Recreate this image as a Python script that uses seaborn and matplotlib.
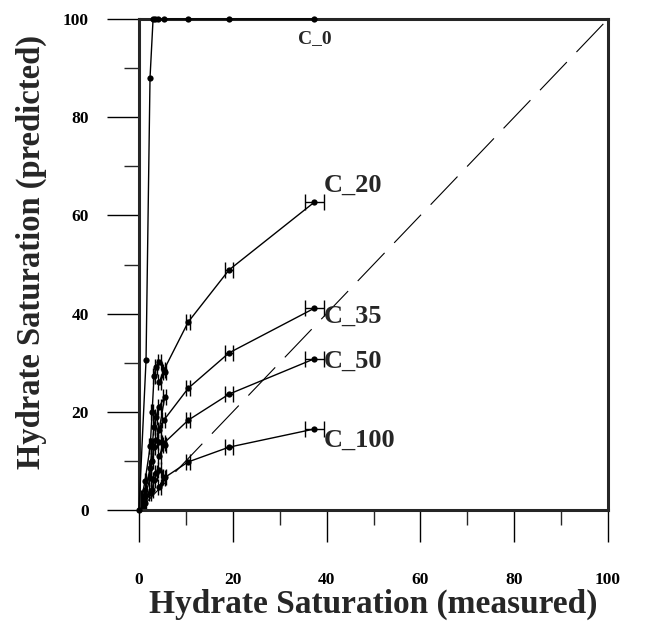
import numpy as np
import pandas as pd
import matplotlib
matplotlib.use("Agg")
import matplotlib.pyplot as plt
import seaborn as sns

# ---- data ----
x_meas = [0.0, 0.6, 1.3, 2.4, 2.8, 3.2, 3.6, 4.3, 5.5, 4.3, 5.3, 10.5, 19.2, 37.4]
c20 = [0.0, 2.5, 6.0, 13.0, 20.0, 27.2, 29.2, 30.2, 28.2, 26.0, 28.5, 38.3, 48.9, 62.7]
c35 = [0.0, 1.6, 4.0, 8.5, 13.0, 17.0, 19.0, 21.0, 23.1, 16.3, 18.3, 24.8, 32.0, 41.1]
c50 = [0.0, 1.2, 3.0, 6.5, 10.0, 12.9, 14.3, 13.9, 13.2, 10.9, 13.6, 18.3, 23.6, 30.8]
c100 = [0.0, 0.6, 1.4, 3.4, 4.1, 6.1, 7.5, 8.1, 6.8, 4.7, 6.5, 9.8, 12.8, 16.5]
x_err = [0.0, 0.1, 0.1, 0.2, 0.2, 0.2, 0.2, 0.3, 0.3, 0.3, 0.3, 0.4, 0.9, 2.1]

x_c0 = [0.0, 1.5, 2.35, 3.0, 3.5, 4.1, 5.3, 10.5, 19.2, 37.4]
c0 = [0.0, 30.5, 88.0, 100.0, 100.0, 100.0, 100.0, 100.0, 100.0, 100.0]

series_names = ["C_20", "C_35", "C_50", "C_100"]
series_vals = [c20, c35, c50, c100]
label_y = [64.8, 38.1, 28.9, 12.8]

y_tick_vals = [0, 20, 40, 60, 80, 100]
x_tick_vals = [0, 20, 40, 60, 80, 100]

# ---- style ----
sns.set_style("ticks")
plt.rcParams['font.family'] = ['Liberation Serif', 'DejaVu Serif']
plt.rcParams['font.weight'] = 'bold'
plt.rcParams['lines.scale_dashes'] = False

fig = plt.figure(figsize=(6.46, 6.21), dpi=100)
ax = fig.add_axes([139/646, 1-510/621, (608-139)/646, (510-19)/621])

# diagonal dashed reference
ref = pd.DataFrame({"x": [0, 100], "y": [0, 100]})
sns.lineplot(data=ref, x="x", y="y", ax=ax, color="black", lw=0.8,
             dashes=False, linestyle=(0, (28, 10)))

# C_0
d0 = pd.DataFrame({"x": x_c0, "y": c0})
sns.lineplot(data=d0, x="x", y="y", ax=ax, sort=False, color="black", lw=1.0,
             marker="o", markersize=4.5, markeredgewidth=0, estimator=None,
             clip_on=False, zorder=6)

for name, vals in zip(series_names, series_vals):
    d = pd.DataFrame({"x": x_meas, "y": vals})
    sns.lineplot(data=d, x="x", y="y", ax=ax, sort=False, color="black", lw=1.0,
                 marker="o", markersize=4.5, markeredgewidth=0, estimator=None)
    ax.errorbar(x_meas, vals, xerr=x_err, fmt="none", ecolor="black",
                elinewidth=1.0, capsize=5.5, capthick=1.0)

ax.set_xlim(0, 100)
ax.set_ylim(0, 100)
ax.set_xticks(x_tick_vals)
ax.set_yticks(y_tick_vals)
ax.set_xticks([10, 30, 50, 70, 90], minor=True)
ax.set_yticks([10, 30, 50, 70, 90], minor=True)
ax.tick_params(axis="both", which="major", length=23, width=1.0, direction="out",
               labelsize=12.5, colors="black")
ax.tick_params(axis="x", which="major", pad=22)
ax.tick_params(axis="y", which="major", pad=13)
ax.tick_params(axis="both", which="minor", length=11, width=1.0, direction="out")
for lab in ax.get_xticklabels() + ax.get_yticklabels():
    lab.set_fontweight("bold")

for sp in ax.spines.values():
    sp.set_linewidth(2.2)
    sp.set_visible(True)
    sp.set_zorder(5)

ax.set_xlabel("Hydrate Saturation (measured)", fontsize=24, fontweight="bold")
ax.set_ylabel("Hydrate Saturation (predicted)", fontsize=23.5, fontweight="bold")
ax.xaxis.set_label_coords(0.5, (510-613)/491)
ax.yaxis.set_label_coords((31-139)/469, (510-252)/491)
ax.xaxis.label.set_va("baseline")
ax.yaxis.label.set_va("center")

# annotations
ax.text(37.4, 95.1, "C_0", fontsize=14, fontweight="bold", ha="center", va="baseline")
for name, ly in zip(series_names, label_y):
    ax.text(39.3, ly, name, fontsize=19, fontweight="bold", ha="left", va="baseline")

fig.savefig("out.png", dpi=100)
